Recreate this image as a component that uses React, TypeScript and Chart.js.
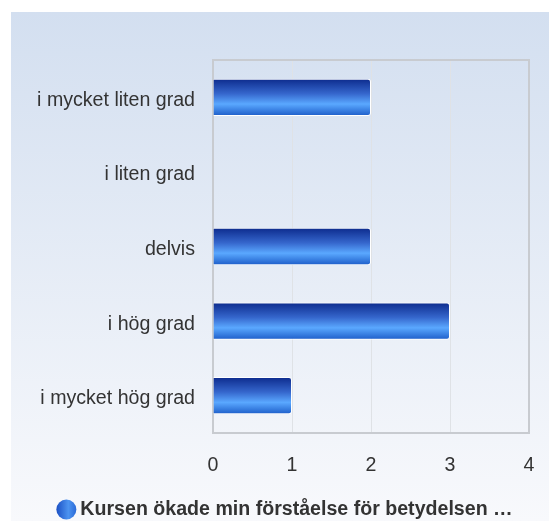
import React, { useEffect, useRef } from "react";
import { Chart, registerables } from "chart.js";

Chart.register(...registerables);

const categories = [
  "i mycket liten grad",
  "i liten grad",
  "delvis",
  "i hög grad",
  "i mycket hög grad",
];
const values = [2, 0, 2, 3, 1];
const xTicks = [0, 1, 2, 3, 4];
const seriesName = "Kursen ökade min förståelse för betydelsen …";

const FONT = '"Liberation Sans", Arial, sans-serif';
const FONT_SIZE = 19.6;
const BAR_PCT = 0.5;

const bgPlugin = {
  id: "panelBg",
  beforeDraw(chart: any) {
    const { ctx, width, height } = chart;
    ctx.save();
    const g = ctx.createLinearGradient(0, 12, 0, height);
    g.addColorStop(0, "#d3dff0");
    g.addColorStop(1, "#f8f9fc");
    ctx.fillStyle = g;
    ctx.fillRect(11, 12, width - 11, height - 12);
    ctx.restore();
  },
  beforeDatasetsDraw(chart: any) {
    const { ctx, chartArea: a } = chart;
    ctx.save();
    ctx.strokeStyle = "#c8cbd0";
    ctx.lineWidth = 2;
    ctx.strokeRect(a.left, a.top, a.right - a.left, a.bottom - a.top);
    ctx.restore();
  },
  afterDraw(chart: any) {
    const { ctx } = chart;
    ctx.save();
    ctx.font = "bold " + FONT_SIZE + "px " + FONT;
    const tw = ctx.measureText(seriesName).width;
    const r = 10;
    const gap = 4;
    const total = 2 * r + gap + tw;
    const cx = 284.5;
    const cy = 509.5;
    const x0 = cx - total / 2;
    const g = ctx.createLinearGradient(x0, 0, x0 + 2 * r, 0);
    g.addColorStop(0, "#1b50c4");
    g.addColorStop(0.6, "#4c93f0");
    g.addColorStop(1, "#2a6ad8");
    ctx.beginPath();
    ctx.arc(x0 + r, cy, r, 0, Math.PI * 2);
    ctx.fillStyle = g;
    ctx.fill();
    ctx.fillStyle = "#333333";
    ctx.textAlign = "left";
    ctx.textBaseline = "middle";
    ctx.fillText(seriesName, x0 + 2 * r + gap, cy);
    ctx.restore();
  },
};

function barGradient(c: any) {
  const chart = c.chart;
  const area = chart.chartArea;
  const ys = chart.scales && chart.scales.y;
  if (!area || !ys || c.dataIndex === undefined) return "#3f86e6";
  const center = ys.getPixelForValue(c.dataIndex);
  const cat = (area.bottom - area.top) / categories.length;
  const half = (cat * BAR_PCT) / 2;
  const g = chart.ctx.createLinearGradient(0, center - half, 0, center + half);
  g.addColorStop(0, "#0c2a8c");
  g.addColorStop(0.4, "#3566cc");
  g.addColorStop(0.68, "#5aa8ff");
  g.addColorStop(1, "#1c5cc8");
  return g;
}

export default function App() {
  const ref = useRef<HTMLCanvasElement>(null);
  useEffect(() => {
    if (!ref.current) return;
    const tickFont = { family: FONT, size: FONT_SIZE };
    const chart = new Chart(ref.current, {
      type: "bar",
      data: {
        labels: categories,
        datasets: [
          {
            label: seriesName,
            data: values,
            backgroundColor: barGradient,
            borderColor: "#ffffff",
            borderWidth: 1,
            borderRadius: 3,
            borderSkipped: "start",
            barPercentage: BAR_PCT,
            categoryPercentage: 1,
          },
        ],
      },
      options: {
        indexAxis: "y",
        responsive: false,
        animation: false,
        layout: { padding: { top: 60, right: 0, bottom: 0, left: 0 } },
        plugins: { legend: { display: false }, tooltip: { enabled: false } },
        scales: {
          x: {
            min: xTicks[0],
            max: xTicks[xTicks.length - 1],
            ticks: { stepSize: 1, padding: 20.5, color: "#333333", font: tickFont },
            grid: { color: "#dfe2e6", drawTicks: false },
            border: { display: true, color: "#c8cbd0", width: 2 },
            afterFit: (s: any) => {
              s.height = 88;
              s.paddingRight = 20;
              s.paddingLeft = 0;
            },
          },
          y: {
            ticks: { padding: 18, labelOffset: 3, color: "#333333", font: tickFont },
            grid: { display: false, drawTicks: false },
            border: { display: true, color: "#c8cbd0", width: 2 },
            afterFit: (s: any) => {
              s.width = 213;
            },
          },
        },
      },
      plugins: [bgPlugin],
    } as any);
    return () => chart.destroy();
  }, []);
  return (
    <div style={{ position: "absolute", left: 0, top: 0, width: 549, height: 521 }}>
      <canvas ref={ref} width={549} height={521} style={{ display: "block" }} />
    </div>
  );
}
